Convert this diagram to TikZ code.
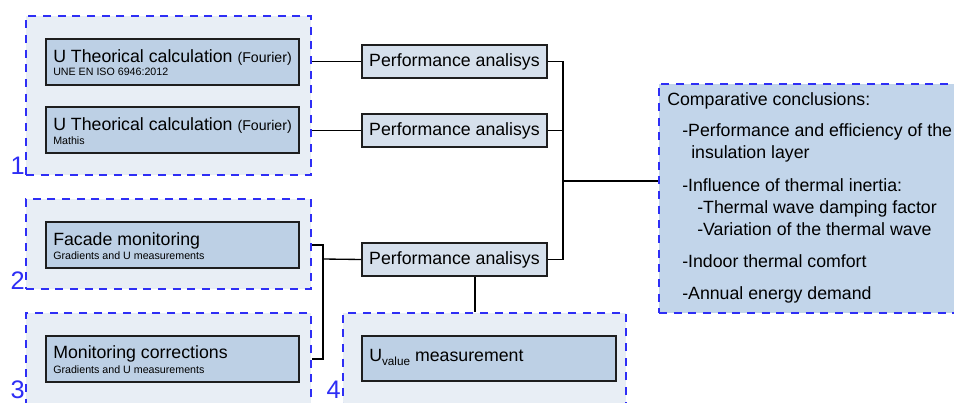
\documentclass[tikz,border=0pt]{standalone}
\usepackage{fontspec}
\setmainfont{Liberation Sans}
\usetikzlibrary{fit,calc}

\definecolor{grpfill}{HTML}{E8EEF5}
\definecolor{boxfill}{HTML}{BDD0E5}
\definecolor{perffill}{HTML}{D6E0EC}
\definecolor{conclfill}{HTML}{C2D5EA}
\definecolor{dashblue}{HTML}{2E2EF5}
\definecolor{edge}{HTML}{1E1E1E}

\tikzset{
  grp/.style={draw=dashblue, fill=grpfill, line width=1.3pt, dash pattern=on 6pt off 5pt, inner sep=0pt},
  ibox/.style={draw=edge, fill=boxfill, line width=1.1pt, inner sep=0pt},
  pbox/.style={draw=edge, fill=perffill, line width=1.1pt, inner sep=0pt},
  cbox/.style={draw=dashblue, fill=conclfill, line width=1.3pt, dash pattern=on 6pt off 5pt, inner sep=0pt},
  wire/.style={draw=black, line width=1pt},
  big/.style={inner sep=0pt, font=\fontsize{13.3pt}{16pt}\selectfont},
  small/.style={inner sep=0pt, font=\fontsize{8pt}{10pt}\selectfont},
  num/.style={inner sep=0pt, text=dashblue, font=\fontsize{19pt}{22pt}\selectfont},
  txt/.style={inner sep=0pt, anchor=base west, font=\fontsize{13.3pt}{16pt}\selectfont}
}

\begin{document}
\begin{tikzpicture}[x=0.75pt, y=-0.75pt]
\useasboundingbox (0,0) rectangle (954,403);

% group frames
\node[grp, fit={(26,16)(311,175)}] (g1) {};
\node[grp, fit={(26,199)(311,289)}] (g2) {};
\node[grp, fit={(26,313)(311,420)}] (g3) {};
\node[grp, fit={(343,313)(626,420)}] (g4) {};

% group numbers
\node[num, anchor=base east] (n1) at (25,175) {1};
\node[num, anchor=base east] (n2) at (25,289) {2};
\node[num, anchor=base east] (n3) at (25,398) {3};
\node[num, anchor=base east] (n4) at (341,398) {4};

% method boxes
\node[ibox, fit={(46,39)(299,85)}] (c1) {};
\node[ibox, fit={(46,107)(299,153)}] (c2) {};
\node[ibox, fit={(46,222)(299,268)}] (c3) {};
\node[ibox, fit={(46,336)(299,382)}] (c4) {};
\node[ibox, fit={(362,336)(616,381)}] (c5) {};

\node[big, anchor=base west] (t1) at (53,63) {U Theorical calculation \fontsize{10.6pt}{12pt}\selectfont(Fourier)};
\node[small, anchor=base west] (s1) at (53,76) {UNE EN ISO 6946:2012};
\node[big, anchor=base west] (t2) at (53,131) {U Theorical calculation \fontsize{10.6pt}{12pt}\selectfont(Fourier)};
\node[small, anchor=base west] (s2) at (53,144) {Mathis};
\node[big, anchor=base west] (t3) at (53,245) {Facade monitoring};
\node[small, anchor=base west] (s3) at (53,259) {Gradients and U measurements};
\node[big, anchor=base west] (t4) at (53,358) {Monitoring corrections};
\node[small, anchor=base west] (s4) at (53,373) {Gradients and U measurements};
\node[big, anchor=base west] (t5) at (369,361) {U\raisebox{-0.28em}{\fontsize{8.8pt}{10pt}\selectfont value} measurement};

% performance boxes
\node[pbox, fit={(362,45)(547,78)}] (p1) {};
\node[pbox, fit={(362,114)(547,147)}] (p2) {};
\node[pbox, fit={(362,243)(547,276)}] (p3) {};
\node[big] (pt1) at (p1.center) {Performance analisys};
\node[big] (pt2) at (p2.center) {Performance analisys};
\node[big] (pt3) at (p3.center) {Performance analisys};

% conclusions
\node[cbox, fit={(659,84)(975,313)}] (cc) {};
\node[txt] (k0) at (667,106) {Comparative conclusions:};
\node[txt] (k1) at (682,137) {-Performance and efficiency of the};
\node[txt] (k2) at (691,159) {insulation layer};
\node[txt] (k3) at (682,191) {-Influence of thermal inertia:};
\node[txt] (k4) at (697,213) {-Thermal wave damping factor};
\node[txt] (k5) at (697,235) {-Variation of the thermal wave};
\node[txt] (k6) at (682,267) {-Indoor thermal comfort};
\node[txt] (k7) at (682,299) {-Annual energy demand};

% connectors
\coordinate (rbus) at (563,181);
\coordinate (lbus) at (323,259);
\draw[wire] (p1.west) -- (p1.west -| g1.east);
\draw[wire] (p2.west) -- (p2.west -| g1.east);
\draw[wire] (p1.east) -- (p1.east -| rbus) -- (p3.east -| rbus) -- (p3.east);
\draw[wire] (p2.east) -- (p2.east -| rbus);
\draw[wire] (rbus) -- (rbus -| cc.west);
\draw[wire] (c3.east -| g2.east) -- (c3.east -| lbus) -- (c4.east -| lbus) -- (c4.east -| g3.east);
\draw[wire] (p3.west) -- (lbus);
\coordinate (pdrop) at ($(p3.south west)!0.61!(p3.south east)$);
\draw[wire] (pdrop) -- (pdrop |- g4.north);
\end{tikzpicture}
\end{document}
